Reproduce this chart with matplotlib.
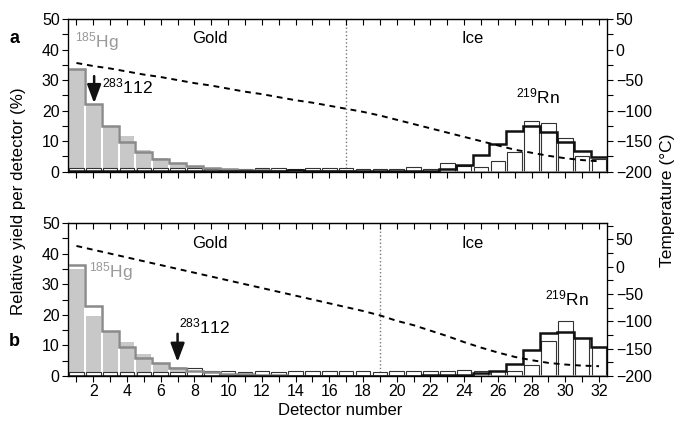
import numpy as np
import matplotlib
matplotlib.use("Agg")
import matplotlib.pyplot as plt

plt.rcParams['font.family'] = ['Liberation Sans', 'DejaVu Sans']

# detectors 1..32
detectors = np.arange(1, 33)
edges = np.arange(0.5, 33.5, 1.0)

# panel a
hg_meas_a = [33.5, 22.1, 14.9, 11.7, 7.1, 4.4, 2.4, 1.6, 1.0, 0.6, 0.3, 0.2, 0.1, 0.1, 0, 0,
             0, 0, 0, 0, 0, 0, 0, 0, 0, 0, 0, 0, 0, 0, 0, 0]
hg_sim_a = [33.5, 22.1, 14.9, 9.6, 6.3, 4.1, 2.7, 1.9, 1.3, 0.9, 0.6, 0.4, 0.3, 0.2, 0.1, 0.1,
            0.1, 0, 0, 0, 0, 0, 0, 0, 0, 0, 0, 0, 0, 0, 0, 0]
rn_meas_a = [1.1, 1.1, 1.1, 1.1, 1.1, 1.1, 1.1, 1.1, 1.0, 1.0, 1.0, 1.3, 1.1, 1.0, 1.3, 1.3,
             1.1, 1.0, 1.0, 1.0, 1.5, 1.0, 2.7, 2.0, 1.6, 3.4, 6.3, 16.7, 16.1, 11.0, 5.1, 4.0]
rn_sim_a = [0.2, 0.2, 0.2, 0.2, 0.2, 0.2, 0.2, 0.2, 0.2, 0.2, 0.2, 0.2, 0.3, 0.5, 0.2, 0.2,
            0.2, 0.2, 0.2, 0.2, 0.2, 0.3, 0.8, 2.3, 5.4, 9.0, 13.3, 15.0, 12.9, 9.6, 6.9, 4.7]
temp_a = [-22, -27, -31, -36, -41, -45, -50, -55, -59, -64, -69, -73, -78, -83, -87, -92,
          -97, -102, -108, -115, -122, -129, -136, -143, -150, -157, -164, -169, -174, -178, -181, -183]

# panel b
hg_meas_b = [35.0, 19.6, 14.8, 11.0, 7.1, 4.1, 3.0, 1.5, 1.0, 0.5, 0.3, 0.2, 0.1, 0, 0, 0,
             0, 0, 0, 0, 0, 0, 0, 0, 0, 0, 0, 0, 0, 0, 0, 0]
hg_sim_b = [36.3, 22.9, 14.8, 9.4, 5.8, 4.1, 2.5, 1.8, 1.2, 0.8, 0.5, 0.3, 0.2, 0.1, 0.1, 0,
            0, 0, 0, 0, 0, 0, 0, 0, 0, 0, 0, 0, 0, 0, 0, 0]
rn_meas_b = [1.4, 1.4, 1.4, 1.4, 1.4, 1.4, 1.4, 2.5, 1.7, 1.6, 1.4, 1.7, 1.4, 1.8, 1.6, 1.8,
             1.7, 1.7, 1.4, 1.7, 1.7, 1.6, 1.6, 1.9, 1.5, 1.6, 1.7, 3.5, 11.5, 18.1, 12.3, 9.5]
rn_sim_b = [0.1, 0.1, 0.1, 0.1, 0.1, 0.1, 0.1, 0.1, 0.1, 0.1, 0.1, 0.1, 0.1, 0.1, 0.1, 0.1,
            0.1, 0.1, 0.1, 0.1, 0.1, 0.2, 0.2, 0.3, 0.9, 1.7, 3.9, 8.5, 13.9, 14.3, 12.3, 9.5]
temp_b = [38, 31, 24, 17, 10, 3, -4, -11, -18, -25, -32, -39, -46, -53, -60, -67,
          -74, -81, -89, -99, -107, -117, -127, -138, -148, -157, -165, -171, -176, -179, -181, -182]

x_ticks = list(range(2, 33, 2))
boundary = {"a": 17, "b": 19}

fig = plt.figure(figsize=(6.76, 4.29), dpi=100)
ax_a = fig.add_axes([0.1006, 0.5998, 0.798, 0.3559])
ax_b = fig.add_axes([0.1006, 0.1235, 0.798, 0.3567])

gray_fill = '#c8c8c8'
gray_line = '#8a8a8a'


def draw_panel(ax, hg_meas, hg_sim, rn_meas, rn_sim, temp, tmax, bline, show_labels):
    ax.bar(detectors, hg_meas, width=0.88, color=gray_fill, edgecolor='none', zorder=1)
    ax.bar(detectors, rn_meas, width=0.86, facecolor='white', edgecolor='#333333',
           linewidth=0.8, zorder=2)
    ax.stairs(hg_sim, edges, baseline=None, color=gray_line, linewidth=1.8, zorder=3)
    ax.stairs(rn_sim, edges, baseline=None, color='#111111', linewidth=1.8, zorder=4)
    ax.axvline(bline, color='#777777', linestyle=':', linewidth=1.0, zorder=0)

    ax.set_xlim(0.5, 32.5)
    ax.set_ylim(0, 50)
    ax.set_yticks([0, 10, 20, 30, 40, 50])
    ax.set_yticks(np.arange(5, 50, 10), minor=True)
    ax.set_xticks(x_ticks)
    ax.set_xticks(range(1, 33, 2), minor=True)
    ax.tick_params(axis='x', which='both', direction='out', length=4, width=0.8,
                   labelsize=11.5, labelbottom=show_labels, pad=2)
    ax.tick_params(axis='y', which='both', direction='out', length=4, width=0.8,
                   labelsize=11.5, pad=2)
    for s in ax.spines.values():
        s.set_linewidth(0.9)

    top = ax.secondary_xaxis('top')
    top.set_xticks(x_ticks)
    top.set_xticks(range(1, 33, 2), minor=True)
    top.tick_params(axis='x', which='both', direction='in', length=4, width=0.8,
                    labeltop=False)

    ax2 = ax.twinx()
    ax2.plot(detectors, temp, color='black', linestyle=(0, (3, 2.5)), linewidth=1.4)
    ax2.set_ylim(-200, tmax)
    ax2.set_yticks([50, 0, -50, -100, -150, -200])
    ax2.set_yticks(np.arange(-175, tmax, 50), minor=True)
    ax2.tick_params(axis='y', which='both', direction='out', length=4, width=0.8,
                    labelsize=11.5, pad=2)
    return ax2


draw_panel(ax_a, hg_meas_a, hg_sim_a, rn_meas_a, rn_sim_a, temp_a, 50, boundary["a"], False)
draw_panel(ax_b, hg_meas_b, hg_sim_b, rn_meas_b, rn_sim_b, temp_b, 80, boundary["b"], True)

# annotations panel a
ax_a.text(8.9, 43.5, 'Gold', ha='center', va='center', fontsize=12)
ax_a.text(24.5, 43.5, 'Ice', ha='center', va='center', fontsize=12)
ax_a.text(0.92, 42.7, '$\\mathregular{^{185}}$Hg', color='#999999', ha='left', va='center', fontsize=12.5)
ax_a.text(2.5, 27.9, '$\\mathregular{^{283}}$112', ha='left', va='center', fontsize=12.5)
ax_a.text(27.05, 24.5, '$\\mathregular{^{219}}$Rn', ha='left', va='center', fontsize=12.5)
ax_a.annotate('', xy=(2.05, 22.4), xytext=(2.05, 31.3),
              arrowprops=dict(arrowstyle='-|>,head_width=0.3,head_length=0.8', lw=1.8,
                              color='#111111', shrinkA=0, shrinkB=0, mutation_scale=14),
              zorder=6)

# annotations panel b
ax_b.text(8.9, 43.4, 'Gold', ha='center', va='center', fontsize=12)
ax_b.text(24.5, 43.4, 'Ice', ha='center', va='center', fontsize=12)
ax_b.text(1.75, 34.0, '$\\mathregular{^{185}}$Hg', color='#999999', ha='left', va='center', fontsize=12.5)
ax_b.text(7.1, 16.3, '$\\mathregular{^{283}}$112', ha='left', va='center', fontsize=12.5)
ax_b.text(28.8, 25.5, '$\\mathregular{^{219}}$Rn', ha='left', va='center', fontsize=12.5)
ax_b.annotate('', xy=(7.0, 4.6), xytext=(7.0, 13.8),
              arrowprops=dict(arrowstyle='-|>,head_width=0.3,head_length=0.8', lw=1.8,
                              color='#111111', shrinkA=0, shrinkB=0, mutation_scale=14),
              zorder=6)

fig.text(0.021, 0.911, 'a', fontsize=13, fontweight='bold', ha='center', va='center')
fig.text(0.021, 0.203, 'b', fontsize=13, fontweight='bold', ha='center', va='center')
fig.text(0.028, 0.53, 'Relative yield per detector (%)', rotation=90, fontsize=12.2,
         ha='center', va='center')
fig.text(0.987, 0.534, 'Temperature (\u00b0C)', rotation=90, fontsize=12.5,
         ha='center', va='center')
fig.text(0.503, 0.044, 'Detector number', fontsize=12, ha='center', va='center')

fig.savefig('out.png', dpi=100)
